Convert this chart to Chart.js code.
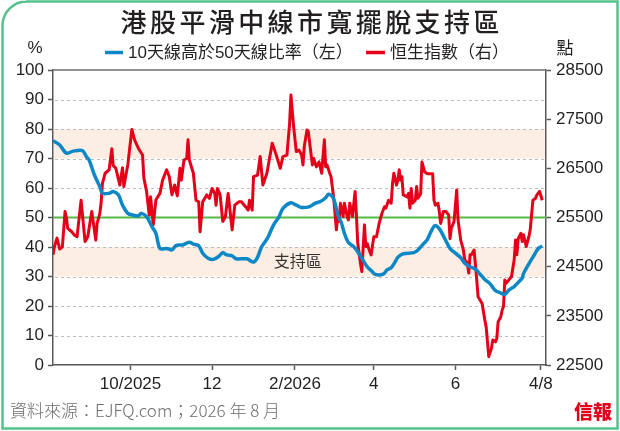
<!DOCTYPE html>
<html>
<head>
<meta charset="utf-8">
<script src="https://cdn.jsdelivr.net/npm/chart.js@4.4.1/dist/chart.umd.min.js"></script>
<style>
html,body{margin:0;padding:0;background:#fff}
canvas{display:block}
</style>
</head>
<body>
<canvas id="myChart" width="620" height="431"></canvas>
<script>
// days counted from 4 Aug 2025
const tickDays=[58,119,181,240,301,365]
const tickLabels=['10/2025','12','2/2026','4','6','4/8']

// 10天線高於50天線比率 (%)
const blueDays=[0,5,10,15,22,25,27,31,35,37,
  42,45,49,52,56,60,64,66,70,74,
  77,80,85,89,92,97,102,105,109,112,
  116,120,124,127,130,134,137,145,150,153,
  156,159,161,165,169,172,178,182,186,192,
  196,200,204,206,209,211,213,216,218,221,
  225,228,231,235,238,241,247,250,253,256,
  258,262,270,273,277,280,282,285,287,290,
  293,297,301,305,308,312,316,320,323,327,
  331,335,338,341,345,348,351,352,356,360,
  363,366]
const blueValues=[76,74.6,71.8,72.5,72.7,70.6,69.5,64.4,60.5,58.2,
  58.2,58.8,57.6,54.2,51.4,50.8,50.6,51.4,50.3,46.9,
  44.6,39.5,39.5,39,40.5,40.7,41.6,41,40.4,37.9,
  36.2,35.8,36.8,38.1,37.3,37,36,36,34.9,36.5,
  40,42,43.5,47.5,50.2,53.1,55,54.2,53.4,53.7,
  54.8,55.4,56.7,57.9,57.1,54.8,51,47.8,44.6,41.5,
  40.1,38.4,36.2,33.3,32,30.7,30.8,32.3,33,35,
  36.5,37.7,38.1,39,41,42.5,44.5,47,47.1,45.5,
  42.9,39.5,37.9,36.4,34.5,33.3,32.5,30.5,29,27.5,
  25.2,24.4,23.9,25.4,26.6,28,29.5,31,34.3,37.3,
  39.5,40.3]

// 恒生指數
const redDays=[0,1,3,5,7,9,10,11,14,16,
  18,21,24,26,29,32,33,35,36,37,
  39,42,44,45,47,50,52,53,56,59,
  61,64,67,68,70,72,73,75,77,80,
  82,85,87,89,91,93,95,96,98,100,
  101,102,105,107,109,110,112,115,117,119,
  121,122,123,125,127,129,131,132,134,136,
  139,141,144,146,147,149,150,153,155,157,
  160,164,167,170,172,175,177,178,180,182,
  184,186,187,188,190,191,194,195,197,199,
  201,203,204,205,207,208,210,212,213,214,
  215,217,218,220,221,222,224,226,227,228,
  230,231,233,234,235,237,238,240,242,244,
  246,248,249,251,253,254,255,257,258,259,
  260,261,262,265,266,267,268,269,271,272,
  273,275,276,278,280,284,285,286,288,289,
  290,292,294,296,297,298,300,302,303,305,
  307,308,310,311,312,313,315,317,318,321,
  323,324,326,328,329,331,332,333,335,336,
  337,338,339,341,343,345,346,347,348,350,
  351,352,354,356,357,359,361,362,364,366]
const redValues=[24740,24900,25080,24860,24900,25620,25500,25280,25210,25140,
  25110,25850,25010,25110,25620,25040,25380,25580,25800,26200,
  26400,26470,26900,26560,26500,26160,26510,26130,26580,27290,
  27080,26900,26770,26300,26030,25550,25920,25350,25860,25990,
  26260,26470,26330,25960,26160,25940,26500,26260,26670,26700,
  27080,26670,26400,25850,25820,25210,25820,25960,25890,26090,
  25990,25750,26090,25960,25420,25520,25990,25750,25250,25750,
  25820,25820,25720,25650,25850,25650,26330,26360,26740,26160,
  26400,27010,26770,26500,26740,26770,27410,27990,27350,26840,
  26870,26770,26570,26950,27280,27250,26570,26700,26530,26630,
  26400,27080,26530,26570,26400,26330,25890,25250,25520,25420,
  25790,25520,25790,25520,25450,25790,25520,26030,25520,24970,
  24570,24400,25350,24910,24970,24800,24740,25110,25110,25380,
  25580,25720,25690,25850,25790,26200,26400,26160,26260,26470,
  26260,26330,25960,25920,25990,25690,26090,25790,25850,26130,
  25890,25980,26630,26430,26390,26390,25850,25750,25790,25620,
  25380,25620,25620,25550,25070,25280,25420,26060,25450,25040,
  24840,24640,24570,24370,24740,24740,24840,24230,23890,23750,
  23420,23280,22670,22840,23010,22970,23040,23380,23480,23620,
  23690,24230,24160,24230,24300,24640,25040,24740,25070,25180,
  25010,25150,24910,25110,25250,25850,25890,25960,26030,25850]

const bands=[[30,40],[70,80]]
const midLine=50

const BLUE='#0e87c6'
const RED='#e50019'
const GREEN='#54b948'
const TXT='#231f20'
const FONT='"Liberation Sans","Noto Sans CJK TC",sans-serif'
const CJK='"Noto Sans CJK TC","Liberation Sans",sans-serif'

function spaced(ctx,text,cx,cy,sp){
  let chars=[...text]
  let w=chars.reduce((a,c)=>a+ctx.measureText(c).width,0)+sp*(chars.length-1)
  let x=cx-w/2
  ctx.textAlign='left'
  chars.forEach(c=>{ctx.fillText(c,x,cy);x+=ctx.measureText(c).width+sp})
}

const decor={
  id:'decor',
  beforeDatasetsDraw(chart){
    const {ctx,chartArea:a,scales}=chart
    const y=scales.y
    ctx.save()
    ctx.fillStyle='#fdeee3'
    bands.forEach(b=>{
      let t=y.getPixelForValue(b[1]),btm=y.getPixelForValue(b[0])
      ctx.fillRect(a.left+1,t,a.right-a.left-2,btm-t)
    })
    ctx.strokeStyle='#bdbdbd'
    ctx.lineWidth=1
    ctx.setLineDash([3,3])
    for(let v=10;v<100;v+=10){
      if(v==midLine)continue
      let p=Math.round(y.getPixelForValue(v))+0.5
      ctx.beginPath();ctx.moveTo(a.left+2,p);ctx.lineTo(a.right-2,p);ctx.stroke()
    }
    ctx.setLineDash([])
    ctx.strokeStyle='#6d6e71'
    ctx.lineWidth=1.5
    ctx.beginPath();ctx.moveTo(a.left,a.top);ctx.lineTo(a.right,a.top);ctx.stroke()
    ctx.strokeStyle=GREEN
    ctx.lineWidth=2
    let g=y.getPixelForValue(midLine)
    ctx.beginPath();ctx.moveTo(a.left,g);ctx.lineTo(a.right,g);ctx.stroke()
    ctx.restore()
  },
  afterDraw(chart){
    const {ctx,scales}=chart
    ctx.save()
    ctx.textBaseline='middle'
    // title
    ctx.fillStyle=TXT
    ctx.font='500 26px '+CJK
    spaced(ctx,'港股平滑中線市寬擺脫支持區',310,22,3.4)
    // legend
    ctx.lineWidth=3.5
    ctx.strokeStyle=BLUE
    ctx.beginPath();ctx.moveTo(105,52.5);ctx.lineTo(123,52.5);ctx.stroke()
    ctx.strokeStyle=RED
    ctx.beginPath();ctx.moveTo(366,52.5);ctx.lineTo(385,52.5);ctx.stroke()
    ctx.font='17px '+FONT
    ctx.textAlign='left'
    ctx.fillText('10天線高於50天線比率（左）',128,53)
    ctx.fillText('恒生指數（右）',390,53)
    // units
    ctx.textAlign='center'
    ctx.fillText('%',35,48)
    ctx.font='17px '+CJK
    ctx.fillText('點',565,48)
    // zone label
    ctx.font='16px '+CJK
    ctx.fillStyle='#333'
    ctx.fillText('支持區',scales.x.getPixelForValue(183),scales.y.getPixelForValue(35.3))
    // footer
    ctx.textAlign='left'
    ctx.fillStyle='#6d6e71'
    ctx.font='300 17px '+CJK
    ctx.fillText('資料來源：EJFQ.com；2026 年 8 月',10,411)
    ctx.fillStyle='#e2001a'
    ctx.font='900 19px '+CJK
    ctx.textAlign='center'
    ctx.fillText('信報',593,412)
    // frame
    ctx.strokeStyle='#55c28c'
    ctx.lineWidth=2.5
    ctx.beginPath()
    ctx.moveTo(617.5,1.5)
    ctx.lineTo(26,1.5)
    ctx.arcTo(2.5,1.5,2.5,26,24)
    ctx.lineTo(2.5,428.5)
    ctx.lineTo(617.5,428.5)
    ctx.closePath()
    ctx.stroke()
    ctx.restore()
  }
}

const axisStyle={
  grid:{drawOnChartArea:false,drawTicks:true,tickLength:5,color:'#58595b',tickColor:'#58595b',tickWidth:1.5},
  border:{color:'#58595b',width:1.5}
}

const config={
  type:'line',
  data:{
    datasets:[{
      label:'10天線高於50天線比率(左)',
      data:blueDays.map((d,i)=>({x:d,y:blueValues[i]})),
      borderColor:BLUE,
      borderWidth:3.5,
      pointRadius:0,
      tension:0.3,
      yAxisID:'y'
    },{
      label:'恒生指數(右)',
      data:redDays.map((d,i)=>({x:d,y:redValues[i]})),
      borderColor:RED,
      borderWidth:3,
      borderJoinStyle:'round',
      pointRadius:0,
      tension:0,
      yAxisID:'y2'
    }]
  },
  options:{
    responsive:false,
    animation:false,
    layout:{padding:{top:70,left:0,right:0,bottom:0}},
    plugins:{legend:{display:false},title:{display:false},tooltip:{enabled:false}},
    scales:{
      x:{
        type:'linear',min:0,max:368.8,
        afterBuildTicks:s=>{s.ticks=tickDays.map(v=>({value:v}))},
        afterFit:s=>{s.height=66},
        ticks:{autoSkip:false,maxRotation:0,padding:4,color:TXT,font:{size:17,family:FONT},
          callback:(v)=>tickLabels[tickDays.indexOf(v)]},
        ...axisStyle
      },
      y:{
        position:'left',min:0,max:100,
        afterFit:s=>{s.width=53},
        ticks:{stepSize:10,padding:4,color:TXT,font:{size:17,family:FONT}},
        ...axisStyle
      },
      y2:{
        position:'right',min:22500,max:28500,
        afterFit:s=>{s.width=74},
        ticks:{stepSize:1000,padding:5,color:TXT,font:{size:17,family:FONT},
          callback:(v)=>String(v)},
        ...axisStyle
      }
    }
  },
  plugins:[decor]
}

const ctx=document.getElementById('myChart')
const chart=new Chart(ctx,config)
</script>
</body>
</html>
